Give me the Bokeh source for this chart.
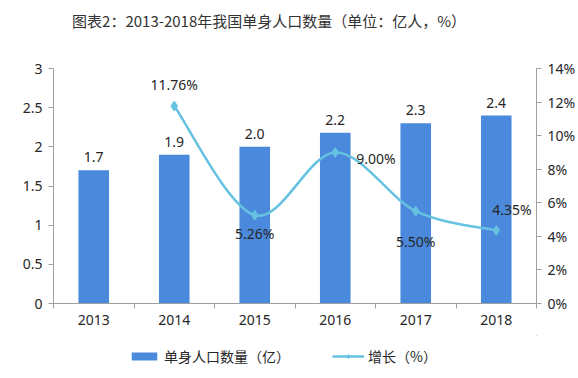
from bokeh.plotting import figure
from bokeh.layouts import column
from bokeh.core.properties import value
from bokeh.models import (Range1d, LinearAxis, FixedTicker, PrintfTickFormatter,
                          ColumnDataSource, Legend, LegendItem, LabelSet)
from bokeh.embed import file_html
from bokeh.resources import INLINE

# ---- data ----
title_text = "图表2：2013-2018年我国单身人口数量（单位：亿人，%）"
years = ["2013", "2014", "2015", "2016", "2017", "2018"]
singles = [1.7, 1.9, 2.0, 2.18, 2.3, 2.4]            # 亿人
growth_years = ["2014", "2015", "2016", "2017", "2018"]
growth = [11.76, 5.26, 9.00, 5.50, 4.35]              # %
left_ticks = [0, 0.5, 1, 1.5, 2, 2.5, 3]
right_ticks = [0, 2, 4, 6, 8, 10, 12, 14]
series_names = ["单身人口数量（亿）", "增长（%）"]

CJK = "Noto Sans CJK SC"
NUM = "Noto Sans"
BAR = "#4A89DC"
LINE = "#66C2E0"
AX = "#A0A0A0"
TXT = "#262626"
W = 578

# ---- title strip ----
tf = figure(width=W, height=40, output_backend="svg", toolbar_location=None,
            x_range=Range1d(0, W), y_range=Range1d(0, 40),
            x_axis_location=None, y_axis_location=None,
            min_border_left=0, min_border_right=0, min_border_top=0, min_border_bottom=0)
tf.grid.grid_line_color = None
tf.outline_line_color = None
tf.text(x=[258], y=[20], text=[title_text], text_align="center", text_baseline="middle",
        text_font=value(CJK), text_font_size="15px", text_color="#333333")

# ---- main chart ----
p = figure(width=W, height=295, output_backend="svg", toolbar_location=None,
           x_range=Range1d(0, 6), y_range=Range1d(0, 3),
           min_border_left=53, min_border_right=35, min_border_top=28, min_border_bottom=32)
p.extra_y_ranges = {"pct": Range1d(0, 14)}
p.outline_line_color = None
p.grid.grid_line_color = None
p.background_fill_color = "white"
p.border_fill_color = "white"

xc = [i + 0.5 for i in range(len(years))]
src = ColumnDataSource(dict(x=xc, top=singles, lab=["%.1f" % v for v in singles]))
p.vbar(x="x", top="top", bottom=0, width=0.38, source=src, fill_color=BAR, line_color=None)
p.add_layout(LabelSet(x="x", y="top", text="lab", source=src, text_align="center",
                      text_baseline="bottom", y_offset=8, text_font=value(NUM),
                      text_font_size=value("14px"), text_color=TXT))

# smooth (cardinal spline) growth line
gx = [xc[years.index(y)] for y in growth_years]
n = len(gx)
x0s, y0s, x1s, y1s, cx0, cy0, cx1, cy1 = [], [], [], [], [], [], [], []
for i in range(n - 1):
    pxm, pym = (gx[i - 1], growth[i - 1]) if i > 0 else (gx[i], growth[i])
    pxp, pyp = (gx[i + 2], growth[i + 2]) if i + 2 < n else (gx[i + 1], growth[i + 1])
    x0s.append(gx[i]); y0s.append(growth[i])
    x1s.append(gx[i + 1]); y1s.append(growth[i + 1])
    cx0.append(gx[i] + (gx[i + 1] - pxm) / 6); cy0.append(growth[i] + (growth[i + 1] - pym) / 6)
    cx1.append(gx[i + 1] - (pxp - gx[i]) / 6); cy1.append(growth[i + 1] - (pyp - growth[i]) / 6)
p.bezier(x0=x0s, y0=y0s, x1=x1s, y1=y1s, cx0=cx0, cy0=cy0, cx1=cx1, cy1=cy1,
         y_range_name="pct", line_color=LINE, line_width=2.5)
gsrc = ColumnDataSource(dict(x=gx, y=growth, lab=["%.2f%%" % v for v in growth],
                             dx=[0, 0, 21, 0, -4], dy=[12, -28, -16, -40, 11],
                             al=["center", "center", "left", "center", "left"]))
p.scatter(x="x", y="y", source=gsrc, y_range_name="pct", marker="diamond",
          size=10, fill_color=LINE, line_color=LINE)
p.add_layout(LabelSet(x="x", y="y", text="lab", source=gsrc, y_range_name="pct",
                      x_offset="dx", y_offset="dy", text_align="al", text_baseline="bottom",
                      text_font=value(NUM), text_font_size=value("14px"), text_color=TXT))

# axes
p.xaxis.ticker = FixedTicker(ticks=xc, minor_ticks=list(range(len(years) + 1)))
p.xaxis.major_label_overrides = {x: y for x, y in zip(xc, years)}
p.xaxis.major_tick_out = 0
p.xaxis.major_tick_in = 0
p.xaxis.minor_tick_out = 5
p.xaxis.minor_tick_in = 0
p.xaxis.minor_tick_line_color = AX

p.yaxis.ticker = FixedTicker(ticks=left_ticks)
p.yaxis.major_label_overrides = {t: ("%g" % t) for t in left_ticks}
p.yaxis.major_tick_out = 5
p.yaxis.major_tick_in = 0
p.yaxis.minor_tick_line_color = None

ra = LinearAxis(y_range_name="pct", ticker=FixedTicker(ticks=right_ticks),
                formatter=PrintfTickFormatter(format="%d%%"))
ra.major_tick_out = 5
ra.major_tick_in = 0
ra.minor_tick_line_color = None
p.add_layout(ra, "right")

for ax in [p.xaxis[0], p.yaxis[0], ra]:
    ax.axis_line_color = AX
    ax.major_tick_line_color = AX
    ax.major_label_text_font = NUM
    ax.major_label_text_font_size = "14px"
    ax.major_label_text_color = TXT
    ax.major_label_standoff = 6

# ---- legend strip ----
lf = figure(width=W, height=43, output_backend="svg", toolbar_location=None,
            x_range=Range1d(-100, -99), y_range=Range1d(-100, -99),
            x_axis_location=None, y_axis_location=None,
            min_border_left=0, min_border_right=0, min_border_top=0, min_border_bottom=0)
lf.grid.grid_line_color = None
lf.outline_line_color = None
lb = lf.vbar(x=xc, top=singles, width=0.38, fill_color=BAR, line_color=None)
ll = lf.line(x=gx, y=growth, line_color=LINE, line_width=2.5)
lm = lf.scatter(x=gx, y=growth, marker="diamond", size=10, fill_color=LINE, line_color=LINE)
legend = Legend(items=[LegendItem(label=series_names[0], renderers=[lb]),
                       LegendItem(label=series_names[1], renderers=[ll, lm])],
                orientation="horizontal", location=(75, 12),
                label_text_font=CJK, label_text_font_size="14px", label_text_color=TXT,
                glyph_width=32, glyph_height=10, spacing=42, border_line_alpha=0,
                background_fill_alpha=0, margin=0, padding=0, label_standoff=4)
lf.add_layout(legend, "center")

layout = column(tf, p, lf, spacing=0)
open("out.html", "w").write(file_html(layout, INLINE))
